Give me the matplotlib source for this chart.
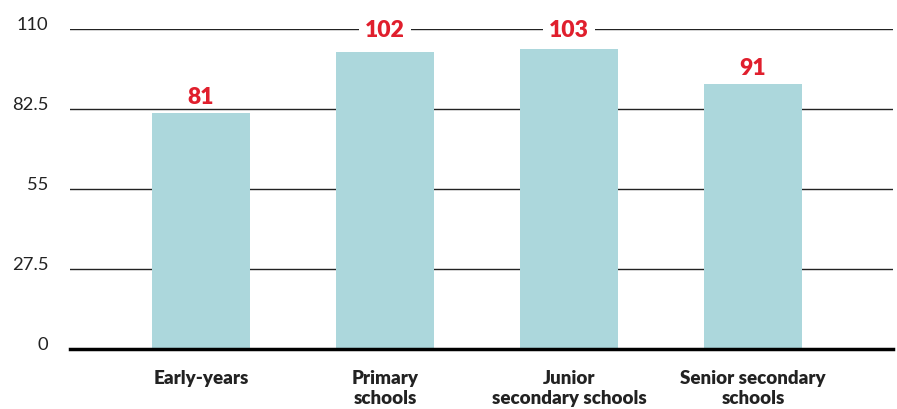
import matplotlib
matplotlib.use('Agg')
from matplotlib import pyplot as plt

categories = ['Early-years', 'Primary\nschools', 'Junior\nsecondary schools', 'Senior secondary\nschools']
values = [81, 102, 103, 91]
yticks = [0, 27.5, 55, 82.5, 110]
ytick_labels = ['0', '27.5', '55', '82.5', '110']

BAR_COLOR = '#acd7dc'
LABEL_RED = '#e01f2d'

plt.rcParams['font.family'] = ['Lato', 'DejaVu Sans']

fig = plt.figure(figsize=(8.97, 4.10), dpi=100)
ax = fig.add_axes([70 / 897, 60 / 410, 823 / 897, 320 / 410])

x = list(range(len(categories)))
ax.bar(x, values, width=0.533, color=BAR_COLOR, zorder=2)

ax.set_xlim(-0.712, 3.761)
ax.set_ylim(0, 110)
top = ax.get_ylim()[1]

# value labels sit just above the bars; the tallest ones snap onto the top
# line and knock it out with a white box
for xi, v in zip(x, values):
    label_y = v + 5.7
    box = None
    if label_y > top - 5:
        label_y = top
        box = dict(boxstyle='square,pad=0.25', fc='white', ec='none')
    ax.text(xi, label_y, str(v), ha='center', va='center', fontsize=16.5,
            fontweight='heavy', color=LABEL_RED, zorder=4, bbox=box)

ax.set_yticks(yticks)
ax.set_yticklabels(ytick_labels, fontsize=13.2, color='#222222')
for lbl in ax.get_yticklabels():
    lbl.set_verticalalignment('baseline')
ax.set_xticks(x)
ax.set_xticklabels(categories, fontsize=13.5, fontweight='heavy', color='#222222',
                   linespacing=1.2)
ax.tick_params(axis='y', length=0, pad=15.5)
ax.tick_params(axis='x', length=0, pad=14.5)

ax.yaxis.grid(True, color='#222222', linewidth=1, zorder=1)
ax.set_axisbelow(True)
for side in ['left', 'right', 'top']:
    ax.spines[side].set_visible(False)
ax.spines['bottom'].set_linewidth(2.5)
ax.spines['bottom'].set_color('black')
ax.spines['bottom'].set_zorder(3)

fig.savefig('out.png', dpi=100)
